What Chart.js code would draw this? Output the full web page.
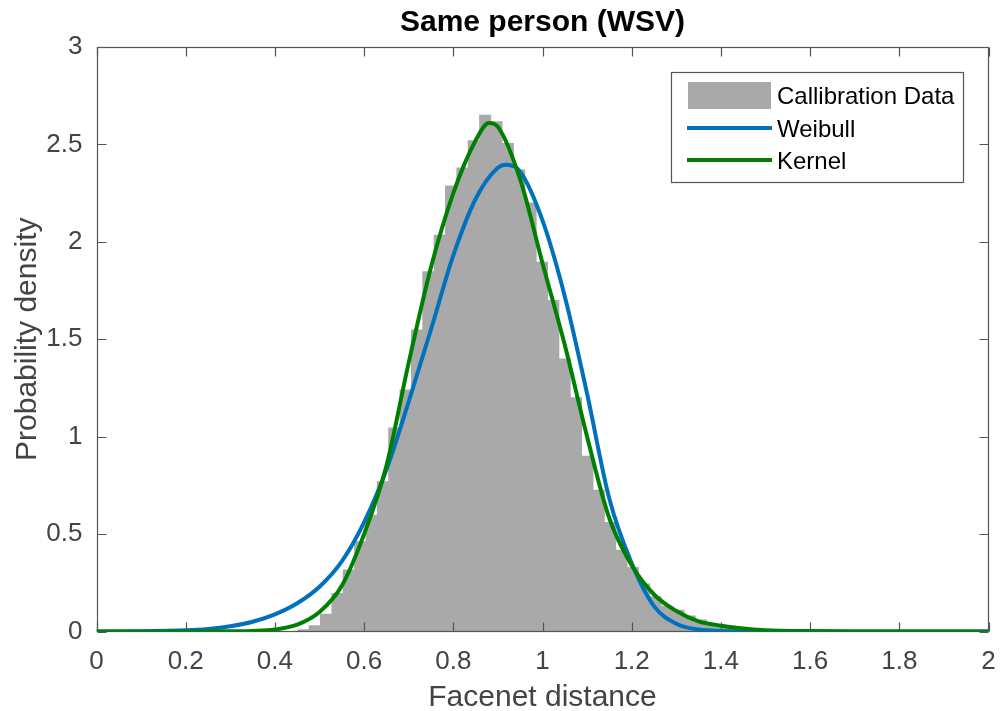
<!DOCTYPE html>
<html>
<head>
<meta charset="utf-8">
<script src="https://cdn.jsdelivr.net/npm/chart.js@4/dist/chart.umd.min.js"></script>
<style>
  html, body { margin: 0; padding: 0; background: #ffffff; }
  #wrap { width: 1003px; height: 711px; }
</style>
</head>
<body>
<div id="wrap"><canvas id="c" width="1003" height="711"></canvas></div>
<script>
// ---- texts ----
const chartTitle = 'Same person (WSV)';
const xTitle = 'Facenet distance';
const yTitle = 'Probability density';
const seriesNames = ['Callibration Data', 'Weibull', 'Kernel'];

// ---- axis ticks ----
const xTicks = [0, 0.2, 0.4, 0.6, 0.8, 1, 1.2, 1.4, 1.6, 1.8, 2];
const yTicks = [0, 0.5, 1, 1.5, 2, 2.5, 3];

// ---- histogram (calibration data) ----
const binFirstEdge = 0.4510;
const binWidth = 0.02548;
const binHeights = [
  0.01, 0.03, 0.09, 0.196, 0.316, 0.461, 0.598, 0.769, 1.045, 1.24,
  1.548, 1.847, 2.035, 2.287, 2.38, 2.52, 2.65, 2.617, 2.506, 2.37,
  2.20, 1.896, 1.70, 1.40, 1.20, 0.90, 0.726, 0.56, 0.418, 0.33,
  0.245, 0.179, 0.13, 0.11, 0.08, 0.06, 0.04, 0.03, 0.02, 0.015, 0.01
];

// ---- Weibull fit ----
const weibullX = [0, 0.1, 0.2, 0.25, 0.3, 0.35, 0.4, 0.45, 0.5, 0.55, 0.6, 0.65, 0.7, 0.75, 0.8,
  0.85, 0.9, 0.92, 0.95, 1.0, 1.05, 1.1, 1.15, 1.2, 1.25, 1.3, 1.35, 1.4, 1.5, 2.0];
const weibullY = [0, 0.001, 0.006, 0.013, 0.027, 0.05, 0.088, 0.145, 0.23, 0.36, 0.56, 0.83, 1.18, 1.55, 1.93,
  2.22, 2.38, 2.395, 2.36, 2.11, 1.72, 1.22, 0.68, 0.35, 0.13, 0.04, 0.01, 0.003, 0, 0];

// ---- Kernel density ----
const kernelX = [0, 0.2, 0.3, 0.35, 0.4, 0.45, 0.5, 0.55, 0.6, 0.65, 0.7, 0.75, 0.8, 0.85, 0.88,
  0.9, 0.95, 1.0, 1.05, 1.1, 1.15, 1.2, 1.25, 1.3, 1.35, 1.4, 1.45, 1.5, 1.6, 1.7, 2.0];
const kernelY = [0, 0, 0.001, 0.003, 0.01, 0.035, 0.1, 0.235, 0.5, 0.85, 1.38, 1.87, 2.25, 2.52, 2.61,
  2.59, 2.32, 1.89, 1.47, 1.0, 0.58, 0.34, 0.19, 0.105, 0.052, 0.03, 0.015, 0.007, 0.002, 0, 0];

// ---- colours ----
const histColor = '#a9a9a9';
const weibullColor = '#0072bd';
const kernelColor = '#008000';
const axisColor = '#555555';
const tickTextColor = '#444444';
const fontFamily = '"Liberation Sans", Arimo, Helvetica, Arial, sans-serif';

const histPoints = binHeights.map((h, i) => ({ x: binFirstEdge + binWidth * (i + 0.5), y: h }));
const weibullPoints = weibullX.map((x, i) => ({ x, y: weibullY[i] }));
const kernelPoints = kernelX.map((x, i) => ({ x, y: kernelY[i] }));

// Box around the plot area with inward tick marks on all four sides
const boxPlugin = {
  id: 'axesBox',
  afterDatasetDraw(chart, args) {
    if (args.index !== 0) return;
    const { ctx, chartArea: a, scales } = chart;
    const L = Math.round(a.left) + 0.5, R = Math.round(a.right) - 0.5;
    const T = Math.round(a.top) + 0.5, B = Math.round(a.bottom) - 0.5;
    const tl = 9;
    ctx.save();
    ctx.strokeStyle = axisColor;
    ctx.lineWidth = 1.2;
    ctx.strokeRect(L, T, R - L, B - T);
    ctx.beginPath();
    xTicks.forEach(v => {
      const px = Math.round(scales.x.getPixelForValue(v)) + 0.5;
      ctx.moveTo(px, B); ctx.lineTo(px, B - tl);
      ctx.moveTo(px, T); ctx.lineTo(px, T + tl);
    });
    yTicks.forEach(v => {
      const py = Math.round(scales.y.getPixelForValue(v)) + 0.5;
      ctx.moveTo(L, py); ctx.lineTo(L + tl, py);
      ctx.moveTo(R, py); ctx.lineTo(R - tl, py);
    });
    ctx.stroke();
    ctx.restore();
  }
};

// Title centred over the plot area, and the legend box in its upper right corner
const overlayPlugin = {
  id: 'overlay',
  afterDraw(chart) {
    const { ctx, chartArea: a } = chart;
    const ds = chart.data.datasets;
    ctx.save();
    ctx.fillStyle = '#000000';
    ctx.font = 'bold 30px ' + fontFamily;
    ctx.textAlign = 'center';
    ctx.textBaseline = 'middle';
    ctx.fillText(chartTitle, (a.left + a.right) / 2, 23);

    const bx = 671.5, by = 72.5, bw = 292, bh = 110;
    ctx.fillStyle = '#ffffff';
    ctx.fillRect(bx, by, bw, bh);
    ctx.strokeStyle = axisColor;
    ctx.lineWidth = 1.2;
    ctx.strokeRect(bx, by, bw, bh);
    const rows = [96, 129, 161];
    ctx.font = '24px ' + fontFamily;
    ctx.textAlign = 'left';
    ds.forEach((d, i) => {
      const cy = rows[i];
      if (d.type === 'bar') {
        ctx.fillStyle = d.backgroundColor;
        ctx.fillRect(688, cy - 14, 83, 27);
      } else {
        ctx.strokeStyle = d.borderColor;
        ctx.lineWidth = d.borderWidth;
        ctx.beginPath();
        ctx.moveTo(687, cy - 1); ctx.lineTo(772, cy - 1);
        ctx.stroke();
      }
      ctx.fillStyle = '#000000';
      ctx.fillText(d.label, 777, cy + 1);
    });
    ctx.restore();
  }
};

new Chart(document.getElementById('c'), {
  data: {
    datasets: [
      {
        type: 'bar', label: seriesNames[0], data: histPoints,
        backgroundColor: histColor, borderWidth: 0,
        barPercentage: 1.0, categoryPercentage: 1.0, order: 2
      },
      {
        type: 'line', label: seriesNames[1], data: weibullPoints,
        borderColor: weibullColor, borderWidth: 4, pointRadius: 0,
        cubicInterpolationMode: 'monotone', fill: false, order: 1
      },
      {
        type: 'line', label: seriesNames[2], data: kernelPoints,
        borderColor: kernelColor, borderWidth: 4, pointRadius: 0,
        cubicInterpolationMode: 'monotone', fill: false, order: 0
      }
    ]
  },
  options: {
    responsive: false,
    animation: false,
    devicePixelRatio: 1,
    layout: { padding: { left: 0, right: 14.5, top: 47, bottom: 0 } },
    plugins: {
      legend: { display: false },
      tooltip: { enabled: false },
      title: { display: false }
    },
    scales: {
      x: {
        type: 'linear', min: 0, max: 2, offset: false,
        grid: { display: false, drawTicks: false, offset: false }, border: { display: false },
        afterBuildTicks: s => { s.ticks = xTicks.map(v => ({ value: v })); },
        afterFit: s => { s.height = 79.5; s.paddingLeft = 0; s.paddingRight = 0; },
        ticks: {
          color: tickTextColor, padding: 15, maxRotation: 0, autoSkip: false,
          font: { family: fontFamily, size: 26 },
          callback: v => String(v)
        },
        title: {
          display: true, text: xTitle, color: tickTextColor,
          font: { family: fontFamily, size: 30, lineHeight: 0.9 },
          padding: { bottom: 0 }
        }
      },
      y: {
        type: 'linear', min: 0, max: 3,
        grid: { display: false, drawTicks: false }, border: { display: false },
        afterBuildTicks: s => { s.ticks = yTicks.map(v => ({ value: v })); },
        afterFit: s => { s.width = 96.5; s.paddingTop = 0; s.paddingBottom = 0; },
        ticks: {
          color: tickTextColor, padding: 14, autoSkip: false,
          font: { family: fontFamily, size: 26 },
          callback: v => String(v)
        },
        title: {
          display: true, text: yTitle, color: tickTextColor,
          font: { family: fontFamily, size: 30, lineHeight: 1.0 },
          padding: { top: 13 }
        }
      }
    }
  },
  plugins: [boxPlugin, overlayPlugin]
});
</script>
</body>
</html>
